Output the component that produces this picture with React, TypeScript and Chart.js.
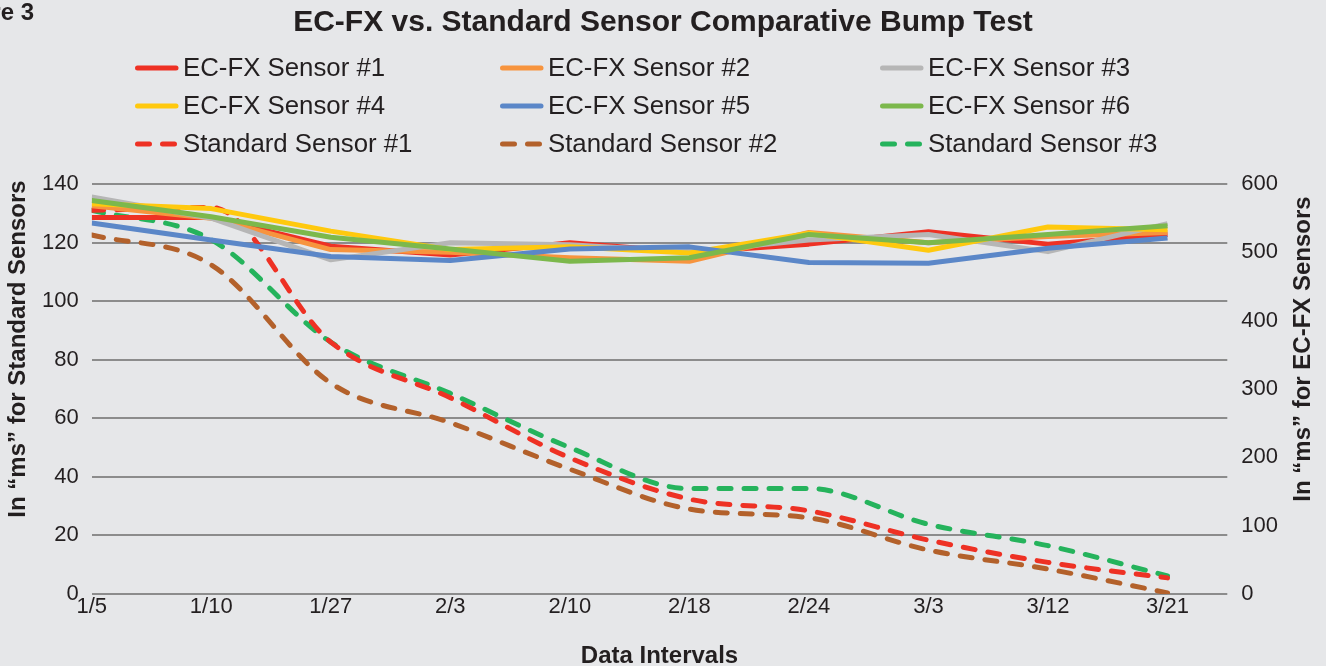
import React, { useEffect, useRef } from 'react';
import { Chart, registerables } from 'chart.js';

Chart.register(...registerables);

// ---- Data ----
const intervals = ['1/5', '1/10', '1/27', '2/3', '2/10', '2/18', '2/24', '3/3', '3/12', '3/21'];

// EC-FX sensors (right axis, ms)
const ecfx1 = [551, 551, 509, 496, 514, 500, 512, 530, 512, 526];
const ecfx2 = [568, 550, 504, 500, 492, 487, 529, 514, 523, 529];
const ecfx3 = [581, 550, 489, 514, 511, 501, 518, 526, 501, 542];
const ecfx4 = [571, 564, 531, 504, 508, 499, 528, 503, 537, 533];
const ecfx5 = [543, 518, 494, 488, 505, 508, 485, 484, 506, 521];
const ecfx6 = [576, 552, 522, 505, 487, 492, 526, 514, 526, 539];

// Standard sensors (left axis, ms)
const std1 = [131, 132, 86, 67, 46.5, 32.4, 28.4, 18.4, 10.8, 5.5];
const std2 = [122.6, 112.4, 72, 58.5, 42.6, 29, 26, 15, 8.5, 0.4];
const std3 = [131, 121, 86, 68.5, 50, 36, 36, 23.8, 16.5, 6.2];

const leftTicks = { min: 0, max: 140, step: 20 };
const rightTicks = { min: 0, max: 600, step: 100 };

const leftTitle = 'In \u201cms\u201d for Standard Sensors';
const rightTitle = 'In \u201cms\u201d for EC-FX Sensors';

const TEXT = '#231f20';
const FONT = "'Liberation Sans', Arial, Helvetica, sans-serif";
const HIDDEN = 'rgba(0,0,0,0)';

const toPts = (arr: number[]) => arr.map((v, i) => ({ x: i, y: v }));

type Series = { label: string; data: number[]; color: string; dashed: boolean; order: number };

const series: Series[] = [
  { label: 'EC-FX Sensor #1', data: ecfx1, color: '#ee3124', dashed: false, order: 6 },
  { label: 'EC-FX Sensor #2', data: ecfx2, color: '#f7943e', dashed: false, order: 5 },
  { label: 'EC-FX Sensor #3', data: ecfx3, color: '#b6b6b6', dashed: false, order: 4 },
  { label: 'EC-FX Sensor #4', data: ecfx4, color: '#ffc90e', dashed: false, order: 3 },
  { label: 'EC-FX Sensor #5', data: ecfx5, color: '#5b87c8', dashed: false, order: 2 },
  { label: 'EC-FX Sensor #6', data: ecfx6, color: '#7cb84c', dashed: false, order: 1 },
  { label: 'Standard Sensor #1', data: std1, color: '#ee3124', dashed: true, order: 7 },
  { label: 'Standard Sensor #2', data: std2, color: '#b3612b', dashed: true, order: 8 },
  { label: 'Standard Sensor #3', data: std3, color: '#25b35c', dashed: true, order: 9 },
];

const legendCols = [135, 500, 880];
const legendRows = [68, 106, 144];

const gridLegendPlugin = {
  id: 'gridLegend',
  afterDraw(chart: any) {
    const ctx = chart.ctx as CanvasRenderingContext2D;
    ctx.save();
    series.forEach((s, i) => {
      const col = i % 3;
      const row = Math.floor(i / 3);
      const x0 = legendCols[col];
      const y = legendRows[row];
      ctx.beginPath();
      ctx.strokeStyle = s.color;
      ctx.lineWidth = 5;
      ctx.lineCap = 'round';
      if (s.dashed) {
        ctx.setLineDash([12, 13]);
        ctx.moveTo(x0 + 2.5, y);
        ctx.lineTo(x0 + 40, y);
      } else {
        ctx.setLineDash([]);
        ctx.moveTo(x0 + 2.5, y);
        ctx.lineTo(x0 + 41, y);
      }
      ctx.stroke();
      ctx.setLineDash([]);
      ctx.fillStyle = TEXT;
      ctx.font = `25.8px ${FONT}`;
      ctx.textBaseline = 'middle';
      ctx.textAlign = 'left';
      ctx.fillText(s.label, x0 + 48, y + 1);
    });

    // Axis titles, both reading bottom-to-top
    const drawVTitle = (text: string, x: number, y: number) => {
      ctx.save();
      ctx.translate(x, y);
      ctx.rotate(-Math.PI / 2);
      ctx.fillStyle = TEXT;
      ctx.font = `bold 24px ${FONT}`;
      ctx.textAlign = 'center';
      ctx.textBaseline = 'middle';
      ctx.fillText(text, 0, 0);
      ctx.restore();
    };
    const midY = 349;
    drawVTitle(leftTitle, 18, midY);
    drawVTitle(rightTitle, 1303, midY);
    ctx.restore();
  },
};

export default function App() {
  const canvasRef = useRef<HTMLCanvasElement | null>(null);

  useEffect(() => {
    document.body.style.margin = '0';
    document.body.style.background = '#e6e7e9';
    const canvas = canvasRef.current;
    if (!canvas) return;

    const chart = new Chart(canvas, {
      type: 'line',
      data: {
        datasets: series.map((s) => ({
          label: s.label,
          data: toPts(s.data),
          borderColor: s.color,
          backgroundColor: s.color,
          borderWidth: 5,
          borderDash: s.dashed ? [12, 13] : [],
          borderCapStyle: s.dashed ? 'round' : 'butt',
          borderJoinStyle: 'round',
          cubicInterpolationMode: s.dashed ? 'monotone' : 'default',
          tension: 0,
          pointRadius: 0,
          fill: false,
          order: s.order,
          yAxisID: s.dashed ? 'y' : 'y1',
        })) as any,
      },
      options: {
        animation: false,
        responsive: true,
        maintainAspectRatio: false,
        layout: { padding: { left: 4, right: 4, top: 0, bottom: 0 } },
        plugins: {
          legend: { display: false },
          tooltip: { enabled: false },
          title: {
            display: true,
            text: 'EC-FX vs. Standard Sensor Comparative Bump Test',
            color: TEXT,
            font: { family: FONT, size: 30, weight: 'bold', lineHeight: 1 },
            padding: { top: 8, bottom: 146 },
          },
        },
        scales: {
          x: {
            type: 'linear',
            min: 0,
            max: 9.5,
            grid: { display: false, drawTicks: false },
            border: { display: false },
            ticks: {
              stepSize: 1,
              includeBounds: false,
              autoSkip: false,
              maxRotation: 0,
              padding: 2,
              color: TEXT,
              font: { family: FONT, size: 22, lineHeight: 1 },
              callback: (v: any) => (Number.isInteger(v) && intervals[v] !== undefined ? intervals[v] : ''),
            },
            title: {
              display: true,
              text: 'Data Intervals',
              color: TEXT,
              font: { family: FONT, size: 24, weight: 'bold', lineHeight: 1 },
              padding: { top: 24, bottom: -2 },
            },
          },
          y: {
            type: 'linear',
            position: 'left',
            min: leftTicks.min,
            max: leftTicks.max,
            grid: { color: '#8c8c8c', lineWidth: 2, drawTicks: false },
            border: { display: false },
            ticks: {
              stepSize: leftTicks.step,
              padding: 13,
              color: TEXT,
              font: { family: FONT, size: 22, lineHeight: 1 },
            },
            title: {
              display: true,
              text: leftTitle,
              color: HIDDEN,
              font: { family: FONT, size: 24, weight: 'bold', lineHeight: 1 },
              padding: { top: 2, bottom: -1 },
            },
          },
          y1: {
            type: 'linear',
            position: 'right',
            min: rightTicks.min,
            max: rightTicks.max,
            grid: { display: false, drawTicks: false },
            border: { display: false },
            ticks: {
              stepSize: rightTicks.step,
              padding: 14,
              color: TEXT,
              font: { family: FONT, size: 22, lineHeight: 1 },
            },
            title: {
              display: true,
              text: rightTitle,
              color: HIDDEN,
              font: { family: FONT, size: 24, weight: 'bold', lineHeight: 1 },
              padding: { top: 7, bottom: -1 },
            },
          },
        },
      },
      plugins: [gridLegendPlugin],
    });

    return () => chart.destroy();
  }, []);

  return (
    <div style={{ position: 'relative', width: 1326, height: 666, background: '#e6e7e9', overflow: 'hidden' }}>
      <div
        style={{
          position: 'absolute',
          left: 0,
          top: -2,
          width: 34,
          overflow: 'hidden',
          display: 'flex',
          justifyContent: 'flex-end',
          whiteSpace: 'nowrap',
          fontFamily: FONT,
          fontWeight: 'bold',
          fontSize: 24,
          color: TEXT,
        }}
      >
        <span>Figure 3</span>
      </div>
      <canvas ref={canvasRef} width={1326} height={666} style={{ width: 1326, height: 666 }} />
    </div>
  );
}
